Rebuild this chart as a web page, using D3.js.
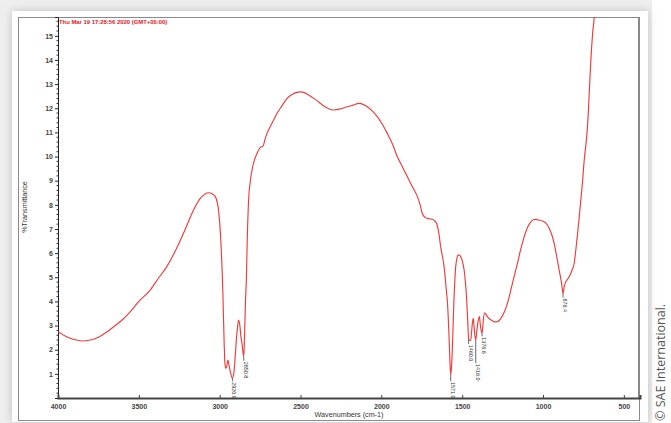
<!DOCTYPE html>
<html><head><meta charset="utf-8">
<script src="https://cdn.jsdelivr.net/npm/d3@7/dist/d3.min.js"></script>
<style>html,body{margin:0;padding:0;background:#fff;overflow:hidden}svg{display:block}</style>
</head><body>
<script>
// ---- data ----
const wavenumbers = [4000,3950,3900,3853,3800,3750,3700,3650,3600,3550,3500,3430,3380,3327,3270,3224,3162,3120,3090,3069,3045,3027,3015,3007,2992,2980,2972,2967,2962,2955,2949,2942,2934,2921,2912,2905,2897,2890,2883,2875,2868,2862,2855,2851,2846,2840,2835,2830,2821,2810,2800,2785,2769,2748,2732,2720,2707,2675,2645,2615,2583,2550,2521,2500,2480,2450,2418,2385,2356,2325,2294,2250,2211,2175,2139,2110,2087,2055,2025,1995,1963,1930,1901,1870,1839,1808,1777,1760,1747,1730,1716,1700,1685,1670,1658,1645,1633,1612,1596,1592,1582,1576,1571,1566,1561,1556,1551,1545,1540,1532,1526,1517,1509,1498,1488,1480,1472,1465,1460,1453,1447,1441,1437,1431,1427,1423,1416,1409,1402,1393,1389,1385,1377,1372,1369,1361,1352,1344,1330,1313,1297,1282,1270,1261,1240,1220,1205,1189,1172,1158,1140,1120,1100,1080,1060,1044,1020,1000,983,960,945,931,915,900,885,876,869,860,850,838,820,807,797,786,776,766,755,745,736,728,720,714,704,693,683,675];
const transmittance = [2.75,2.55,2.42,2.36,2.40,2.52,2.72,2.98,3.25,3.60,4.00,4.47,4.95,5.44,6.15,6.82,7.78,8.27,8.45,8.50,8.45,8.34,8.10,7.78,6.40,4.33,2.20,1.40,1.23,1.35,1.57,1.35,1.09,0.82,1.05,1.60,2.40,2.90,3.23,3.00,2.50,2.26,1.85,1.71,2.60,4.06,4.89,6.40,8.20,9.00,9.44,9.85,10.13,10.38,10.43,10.70,10.96,11.40,11.79,12.10,12.41,12.58,12.66,12.68,12.66,12.55,12.41,12.25,12.09,11.98,11.93,11.98,12.06,12.13,12.20,12.15,12.06,11.88,11.65,11.35,10.96,10.50,9.99,9.58,9.16,8.75,8.34,8.00,7.65,7.48,7.44,7.42,7.40,7.33,7.23,6.85,6.27,5.44,4.33,4.06,2.68,1.57,0.95,1.30,1.99,3.00,4.06,4.90,5.44,5.80,5.92,5.92,5.85,5.65,5.30,4.80,4.06,3.10,2.45,2.38,2.40,2.80,3.09,3.30,3.00,2.68,2.40,2.80,3.16,3.37,3.10,2.89,2.68,3.00,3.23,3.53,3.45,3.37,3.27,3.20,3.15,3.16,3.22,3.30,3.55,3.92,4.30,4.75,5.20,5.58,6.10,6.60,7.00,7.25,7.38,7.40,7.36,7.32,7.25,7.00,6.75,6.40,5.85,5.30,4.75,4.33,4.60,4.80,4.90,5.02,5.30,5.58,6.13,6.82,7.50,8.20,9.00,9.86,10.40,10.96,11.80,12.62,14.00,15.10,15.79,16.60];
const xTicks = [4000,3500,3000,2500,2000,1500,1000,500];
const yTicks = [1,2,3,4,5,6,7,8,9,10,11,12,13,14,15];
const peakWn = [2921,2851,1571,1460,1416,1377,876];
const peakT = [0.82,1.71,0.95,2.45,2.40,2.68,4.33];
const peakLabels = ["2920.9","2850.8","1571.0","1460.0","1416.0","1376.6","876.4"];
const peakLeader = [3,4,6,5,23,3,4]; // leader-line lengths (px)
const timestamp = "Thu Mar 19 17:28:56 2020 (GMT+00:00)";
const xTitle = "Wavenumbers (cm-1)";
const yTitle = "%Transmittance";
const credit = "\u00A9 SAE International.";

// ---- layout ----
const W = 671, H = 423;
const plot = {l:58, t:17, r:640, b:398};
const svg = d3.select("body").append("svg").attr("width",W).attr("height",H);
const defs = svg.append("defs");
const f = defs.append("filter").attr("id","sh").attr("x","-5%").attr("y","-5%").attr("width","110%").attr("height","110%");
f.append("feDropShadow").attr("dx",0).attr("dy",0).attr("stdDeviation",4).attr("flood-color","#999").attr("flood-opacity",0.55);
defs.append("clipPath").attr("id","clip").append("rect")
  .attr("x",plot.l).attr("y",plot.t).attr("width",plot.r-plot.l).attr("height",plot.b-plot.t);

svg.append("rect").attr("x",0).attr("y",0).attr("width",652).attr("height",H).attr("fill","#eeeeee");
svg.append("rect").attr("x",12).attr("y",11).attr("width",636).attr("height",411).attr("fill","#fff").attr("filter","url(#sh)");
// outer box
svg.append("rect").attr("x",18.5).attr("y",17.5).attr("width",621).attr("height",403).attr("fill","none").attr("stroke","#8a8a8a").attr("stroke-width",1);

const x = d3.scaleLinear().domain([4000,400]).range([plot.l,plot.r]);
const y = d3.scaleLinear().domain([0,15.78]).range([plot.b,plot.t]);

// right plot border
svg.append("line").attr("x1",plot.r-1).attr("x2",plot.r-1).attr("y1",plot.t).attr("y2",plot.b)
  .attr("stroke","#888").attr("stroke-width",2);

// y axis
const ya = svg.append("g").attr("transform",`translate(${plot.l},0)`)
  .call(d3.axisLeft(y).tickValues(yTicks).tickSize(3).tickFormat(d3.format("d")));
ya.select(".domain").attr("stroke","#222");
ya.selectAll(".tick line").attr("stroke","#222");
ya.selectAll("text").attr("font-family","Liberation Sans, Arial, sans-serif").attr("font-size",7).attr("font-weight","bold").attr("fill","#444").attr("dx",1);
const minorY = d3.range(0.2,15.7,0.2).filter(v=>Math.abs(v-Math.round(v))>0.01);
svg.append("g").selectAll("line").data(minorY).join("line")
  .attr("x1",plot.l-1.5).attr("x2",plot.l).attr("y1",d=>y(d)).attr("y2",d=>y(d)).attr("stroke","#333").attr("stroke-width",1);

// x axis
const xa = svg.append("g").attr("transform",`translate(0,${plot.b})`)
  .call(d3.axisBottom(x).tickValues(xTicks).tickSize(-3).tickPadding(6).tickFormat(d3.format("d")));
xa.select(".domain").attr("stroke","#444").attr("stroke-width",2);
xa.selectAll(".tick line").attr("stroke","#444");
xa.selectAll("text").attr("font-family","Liberation Sans, Arial, sans-serif").attr("font-size",7).attr("font-weight","bold").attr("fill","#444");

// titles
svg.append("text").attr("x",(plot.l+plot.r)/2).attr("y",417).attr("text-anchor","middle")
  .attr("font-family","Liberation Sans, Arial, sans-serif").attr("font-size",7.2).attr("fill","#333").text(xTitle);
svg.append("text").attr("transform","translate(27,207) rotate(-90)").attr("text-anchor","middle")
  .attr("font-family","Liberation Sans, Arial, sans-serif").attr("font-size",7.2).attr("fill","#333").text(yTitle);
svg.append("text").attr("x",plot.l+1).attr("y",24).attr("font-family","Liberation Sans, Arial, sans-serif")
  .attr("font-size",5.9).attr("font-weight","bold").attr("fill","#e8141c").text(timestamp);

// spectrum
const pts = wavenumbers.map((w,i)=>[w,transmittance[i]]);
svg.append("path").datum(pts).attr("clip-path","url(#clip)")
  .attr("d",d3.line().x(d=>x(d[0])).y(d=>y(d[1])).curve(d3.curveMonotoneX))
  .attr("fill","none").attr("stroke","#f23a3a").attr("stroke-width",1.15);

// peak labels
const pk = svg.append("g");
peakWn.forEach((w,i)=>{
  const px = x(w), py = y(peakT[i]);
  pk.append("line").attr("x1",px).attr("x2",px).attr("y1",py).attr("y2",py+peakLeader[i])
    .attr("stroke","#666").attr("stroke-width",1);
  pk.append("text").attr("transform",`translate(${px+2},${py+peakLeader[i]+1}) rotate(90)`)
    .attr("dominant-baseline","central").attr("font-family","Liberation Sans, Arial, sans-serif")
    .attr("font-size",5.4).attr("fill","#333").text(peakLabels[i]);
});

// credit
svg.append("text").attr("transform","translate(665,421) rotate(-90)").attr("text-anchor","start")
  .attr("font-family","Open Sans, sans-serif").attr("font-size",12.5).attr("fill","#555").text(credit);
</script>
</body></html>
